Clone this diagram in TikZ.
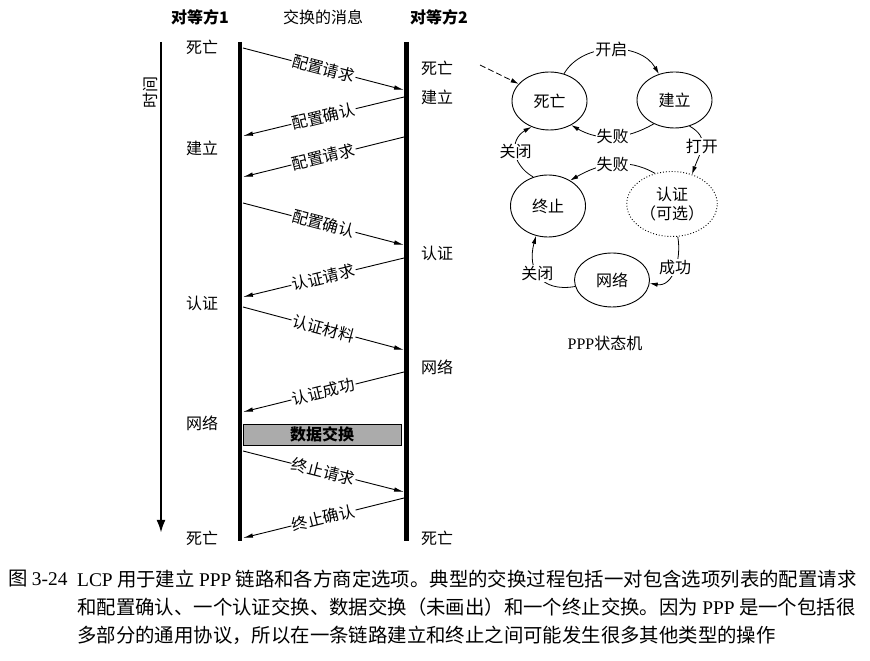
\documentclass[tikz,border=0pt]{standalone}
\usepackage{fontspec}
\setmainfont{Noto Sans CJK SC}
\newfontfamily\latfont{Liberation Serif}
\usetikzlibrary{arrows.meta,shapes.geometric}
\begin{document}
\begin{tikzpicture}[x=1pt,y=1pt,
  lbl/.style={font=\fontsize{16}{18}\selectfont, inner sep=1pt},
  hdr/.style={font=\fontsize{16}{18}\selectfont\bfseries, inner sep=1pt},
  peerline/.style={line width=4.6pt},
  msg/.style={line width=0.9pt, -{Latex[length=10pt,width=4.5pt]}},
  mlab/.style={lbl, fill=white, sloped, inner sep=1pt},
  st/.style={draw, ellipse, line width=0.9pt, minimum width=75pt, inner sep=0pt,
             font=\fontsize{16}{19}\selectfont, align=center},
  tr/.style={line width=0.8pt, -{Latex[length=8pt,width=4.5pt]}},
  tlab/.style={lbl, fill=white, inner sep=1pt},
  captxt/.style={font=\fontsize{19.4}{22}\selectfont, inner sep=0pt, anchor=west}
]
\useasboundingbox (0,0) rectangle (870,661);

% headers
\node[hdr] (h1) at (200,644) {对等方1};
\node[lbl] (h0) at (323,644) {交换的消息};
\node[hdr] (h2) at (439,644) {对等方2};

% time axis
\coordinate (t0) at (161,619);
\coordinate (t1) at (161,128);
\draw[line width=2.4pt, -{Latex[length=13pt,width=9pt]}] (t0) -- (t1);
\node[lbl, rotate=90] (time) at (150,568) {时间};

% peer lines
\coordinate (p1a) at (240,619);
\coordinate (p1b) at (240,120);
\coordinate (p2a) at (406.5,619);
\coordinate (p2b) at (406.5,120);
\draw[peerline] (p1a) -- (p1b);
\draw[peerline] (p2a) -- (p2b);

% peer 1 states
\node[lbl, anchor=west] (s11) at (185,614) {死亡};
\node[lbl, anchor=west] (s12) at (185,513) {建立};
\node[lbl, anchor=west] (s13) at (185,358) {认证};
\node[lbl, anchor=west] (s14) at (185,238) {网络};
\node[lbl, anchor=west] (s15) at (185,123) {死亡};
% peer 2 states
\node[lbl, anchor=west] (s21) at (420,593) {死亡};
\node[lbl, anchor=west] (s22) at (420,564) {建立};
\node[lbl, anchor=west] (s23) at (420,408) {认证};
\node[lbl, anchor=west] (s24) at (420,294) {网络};
\node[lbl, anchor=west] (s25) at (420,123) {死亡};

% message endpoints
\coordinate (a1) at (243,613); \coordinate (b1) at (404,571);
\coordinate (a2) at (404,564); \coordinate (b2) at (243,525);
\coordinate (a3) at (404,524); \coordinate (b3) at (243,484);
\coordinate (a4) at (243,458); \coordinate (b4) at (404,416);
\coordinate (a5) at (404,403); \coordinate (b5) at (243,364);
\coordinate (a6) at (243,354); \coordinate (b6) at (404,311);
\coordinate (a7) at (404,289); \coordinate (b7) at (243,249);
\coordinate (a9) at (243,210); \coordinate (b9) at (404,169);
\coordinate (a10) at (404,163); \coordinate (b10) at (243,123);

\draw[msg] (a1) -- node[mlab] (l1) {配置请求} (b1);
\draw[msg] (a2) -- node[mlab] (l2) {配置确认} (b2);
\draw[msg] (a3) -- node[mlab] (l3) {配置请求} (b3);
\draw[msg] (a4) -- node[mlab] (l4) {配置确认} (b4);
\draw[msg] (a5) -- node[mlab] (l5) {认证请求} (b5);
\draw[msg] (a6) -- node[mlab] (l6) {认证材料} (b6);
\draw[msg] (a7) -- node[mlab] (l7) {认证成功} (b7);
\draw[msg] (a9) -- node[mlab] (l9) {终止请求} (b9);
\draw[msg] (a10) -- node[mlab] (l10) {终止确认} (b10);

% data exchange box
\node[draw, line width=0.8pt, fill=black!33, minimum width=158pt, minimum height=21pt,
      inner sep=0pt, font=\fontsize{16}{18}\selectfont\bfseries] (data) at (322,226.5) {数据交换};

% state machine
\node[st, minimum height=58pt] (dead) at (549.5,560) {死亡};
\node[st, minimum height=56pt] (est) at (674.5,561) {建立};
\node[st, minimum height=62pt] (term) at (548,455) {终止};
\node[st, minimum height=65pt, dotted] (auth) at (672,457) {认证\\（可选）};
\node[st, minimum height=54pt] (net) at (612,381) {网络};
\node[font=\fontsize{16}{18}\selectfont, inner sep=1pt] (title) at (605,318) {{\latfont PPP}状态机};

\coordinate (start) at (480,596);
\draw[line width=0.8pt, dash pattern=on 6pt off 3pt, -{Latex[length=8pt,width=4.5pt]}] (start) -- (dead.151);

\draw[tr] (dead.62) to[out=60,in=120] node[tlab] (e1) {开启} (est.121);
\draw[tr] (est.229) to[out=210,in=330] node[tlab] (e2) {失败} (dead.312);
\draw[tr] (est.300) to[out=-30,in=70,looseness=1.3] node[tlab] (e3) {打开} (auth.56);
\draw[tr] (auth.119) to[out=150,in=30] node[tlab] (e4) {失败} (term.49);
\draw[tr] (term.117) to[out=150,in=210,looseness=1.3] node[tlab] (e5) {关闭} (dead.235);
\draw[tr] (auth.280) to[out=-80,in=-10,looseness=1.1] node[tlab, pos=0.45] (e6) {成功} (net.355);
\draw[tr] (net.190) to[out=190,in=255,looseness=1.4] node[tlab, pos=0.55] (e7) {关闭} (term.248);

% caption
\node[captxt] (c0) at (8,82) {图 {\latfont 3-24}};
\node[captxt] (c1) at (77,82) {{\latfont LCP} 用于建立 {\latfont PPP} 链路和各方商定选项。典型的交换过程包括一对包含选项列表的配置请求};
\node[captxt] (c2) at (77,54) {和配置确认、一个认证交换、数据交换（未画出）和一个终止交换。因为 {\latfont PPP} 是一个包括很};
\node[captxt] (c3) at (77,26) {多部分的通用协议，所以在一条链路建立和终止之间可能发生很多其他类型的操作};
\end{tikzpicture}
\end{document}
